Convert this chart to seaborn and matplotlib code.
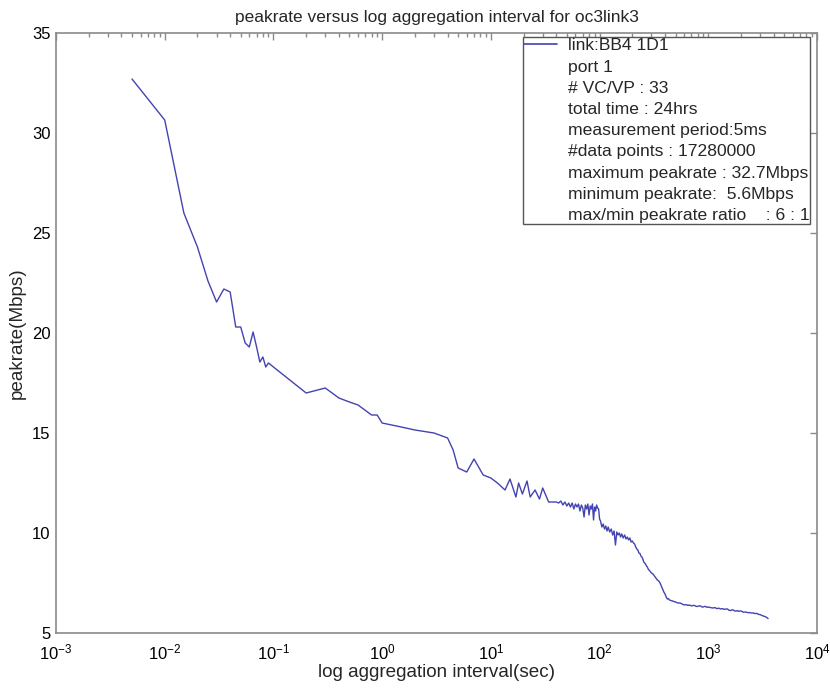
import matplotlib
matplotlib.use("Agg")
import matplotlib.pyplot as plt
from matplotlib.lines import Line2D
from matplotlib.ticker import LogLocator
import seaborn as sns
import pandas as pd

sns.set_theme(style="white")
plt.rcParams['font.family'] = ['Liberation Sans', 'DejaVu Sans']
plt.rcParams['mathtext.fontset'] = 'custom'
plt.rcParams['mathtext.rm'] = 'Liberation Sans'
plt.rcParams['mathtext.it'] = 'Liberation Sans'

# ---- data ----
interval_sec = [
    0.005, 0.01, 0.015, 0.02, 0.025, 0.03, 0.035, 0.04, 0.045, 0.05,
    0.055, 0.06, 0.065, 0.07, 0.075, 0.08, 0.085, 0.09, 0.1, 0.2,
    0.3, 0.4, 0.5, 0.6, 0.8, 0.9, 1.0, 1.5, 2.0, 3.0,
    4.0, 4.5, 5.0, 6.0, 7.0, 8.5, 10, 11.5, 13.5, 15,
    17, 18, 19.5, 21.5, 23, 25.5, 28, 30, 34, 40,
    42, 44, 46, 48, 50, 52, 54, 56, 58, 60,
    62, 64, 66, 68, 70, 72, 74, 76, 78, 80,
    82, 84, 86, 88, 90, 92, 94, 96, 98, 100,
    102, 105, 108, 111, 114, 117, 120, 124, 128, 132,
    136, 140, 144, 148, 152, 156, 160, 165, 170, 175,
    180, 185, 190, 195, 200, 205, 210, 215, 220, 225,
    230, 235, 240, 245, 250, 255, 260, 265, 270, 275,
    280, 290, 300, 310, 320, 330, 340, 350, 360, 370,
    380, 390, 400, 410, 420, 430, 440, 455, 470, 485,
    500, 525, 550, 575, 600, 625, 650, 675, 700, 725,
    750, 775, 800, 825, 850, 875, 900, 925, 950, 975,
    1000, 1050, 1100, 1150, 1200, 1250, 1300, 1350, 1400, 1450,
    1500, 1550, 1600, 1650, 1700, 1750, 1800, 1850, 1900, 1950,
    2000, 2100, 2200, 2300, 2400, 2500, 2600, 2700, 2800, 2900,
    3000, 3100, 3200, 3300, 3400, 3500, 3550,
]
peakrate_mbps = [
    32.7, 30.65, 26.0, 24.3, 22.6, 21.55, 22.2, 22.05, 20.3, 20.3,
    19.5, 19.3, 20.05, 19.3, 18.55, 18.8, 18.3, 18.5, 18.3, 17.0,
    17.25, 16.75, 16.55, 16.4, 15.9, 15.9, 15.5, 15.3, 15.15, 15.0,
    14.75, 14.15, 13.25, 13.05, 13.7, 12.9, 12.75, 12.5, 12.15, 12.7,
    11.8, 12.5, 11.95, 12.6, 11.8, 12.15, 11.7, 12.25, 11.55, 11.55,
    11.5, 11.6, 11.4, 11.55, 11.35, 11.5, 11.3, 11.5, 11.2, 11.45,
    11.3, 11.45, 11.1, 11.4, 11.25, 10.8, 11.4, 11.2, 11.45, 10.9,
    11.35, 11.2, 11.45, 10.65, 11.3, 11.1, 11.4, 11.25, 11.2, 10.7,
    10.6, 10.3, 10.45, 10.2, 10.35, 10.1, 10.3, 10.05, 10.2, 9.9,
    10.1, 9.4, 10.05, 9.9, 10.0, 9.8, 9.95, 9.75, 9.9, 9.7,
    9.8, 9.65, 9.75, 9.55, 9.6, 9.5, 9.45, 9.3, 9.2, 9.15,
    9.0, 8.98, 8.85, 8.8, 8.7, 8.55, 8.5, 8.45, 8.35, 8.3,
    8.2, 8.1, 8.0, 7.95, 7.85, 7.75, 7.65, 7.6, 7.5, 7.35,
    7.2, 7.05, 6.95, 6.8, 6.7, 6.72, 6.65, 6.62, 6.6, 6.57,
    6.55, 6.5, 6.5, 6.45, 6.4, 6.42, 6.38, 6.4, 6.35, 6.38,
    6.37, 6.33, 6.33, 6.36, 6.35, 6.3, 6.3, 6.33, 6.32, 6.28,
    6.3, 6.27, 6.25, 6.27, 6.22, 6.24, 6.2, 6.22, 6.18, 6.2,
    6.2, 6.14, 6.12, 6.16, 6.15, 6.1, 6.1, 6.12, 6.08, 6.1,
    6.1, 6.04, 6.05, 6.02, 6.02, 6.0, 6.0, 5.97, 5.98, 5.93,
    5.92, 5.88, 5.85, 5.83, 5.8, 5.75, 5.72,
]
legend_lines = [
    "link:BB4 1D1",
    "port 1",
    "# VC/VP : 33",
    "total time : 24hrs",
    "measurement period:5ms",
    "#data points : 17280000",
    "maximum peakrate : 32.7Mbps",
    "minimum peakrate:  5.6Mbps",
    "max/min peakrate ratio    : 6 : 1",
]
title_text = "peakrate versus log aggregation interval for oc3link3"
x_label = "log aggregation interval(sec)"
y_label = "peakrate(Mbps)"
y_ticks = [5, 10, 15, 20, 25, 30, 35]

df = pd.DataFrame({"interval": interval_sec, "peakrate": peakrate_mbps})

fig = plt.figure(figsize=(8.3, 6.94), dpi=100)
ax = fig.add_axes([56/830, 1-633/694, (817-56)/830, (633-33)/694])

line_color = "#4343b2"
sns.lineplot(data=df, x="interval", y="peakrate", ax=ax, color=line_color,
             linewidth=1.0, estimator=None, sort=False, legend=False)

ax.set_xscale("log")
ax.set_xlim(1e-3, 1e4)
ax.set_ylim(5, 35)
ax.set_yticks(y_ticks)
ax.xaxis.set_major_locator(LogLocator(base=10, numticks=20))
ax.xaxis.set_minor_locator(LogLocator(base=10, subs=range(2, 10), numticks=100))

spine_color = "#8a8a8a"
for s in ax.spines.values():
    s.set_color(spine_color)
    s.set_linewidth(1.2)
ax.tick_params(which="both", direction="in", top=True, right=True,
               color=spine_color, labelcolor="black", labelsize=12, pad=4)
ax.tick_params(which="major", length=5, width=1)
ax.tick_params(which="minor", length=3, width=1)
ax.tick_params(axis="x", which="major", pad=7)

ax.set_title(title_text, fontsize=12.5, pad=8)
ax.set_xlabel(x_label, fontsize=13.6, labelpad=1)
ax.set_ylabel(y_label, fontsize=13.6, labelpad=4)

handles = [Line2D([], [], color=line_color, linewidth=1.2)] + \
          [Line2D([], [], color="none") for _ in legend_lines[1:]]
leg = ax.legend(handles, legend_lines, loc="upper right",
                bbox_to_anchor=(0.991, 0.993), fontsize=12.6,
                frameon=True, fancybox=False, framealpha=1, shadow=False,
                borderpad=0.05, labelspacing=0.34, handlelength=1.9,
                handletextpad=0.6, borderaxespad=0)
leg.get_frame().set_edgecolor("#555555")
leg.get_frame().set_linewidth(1.0)

fig.savefig("out.png", dpi=100)
